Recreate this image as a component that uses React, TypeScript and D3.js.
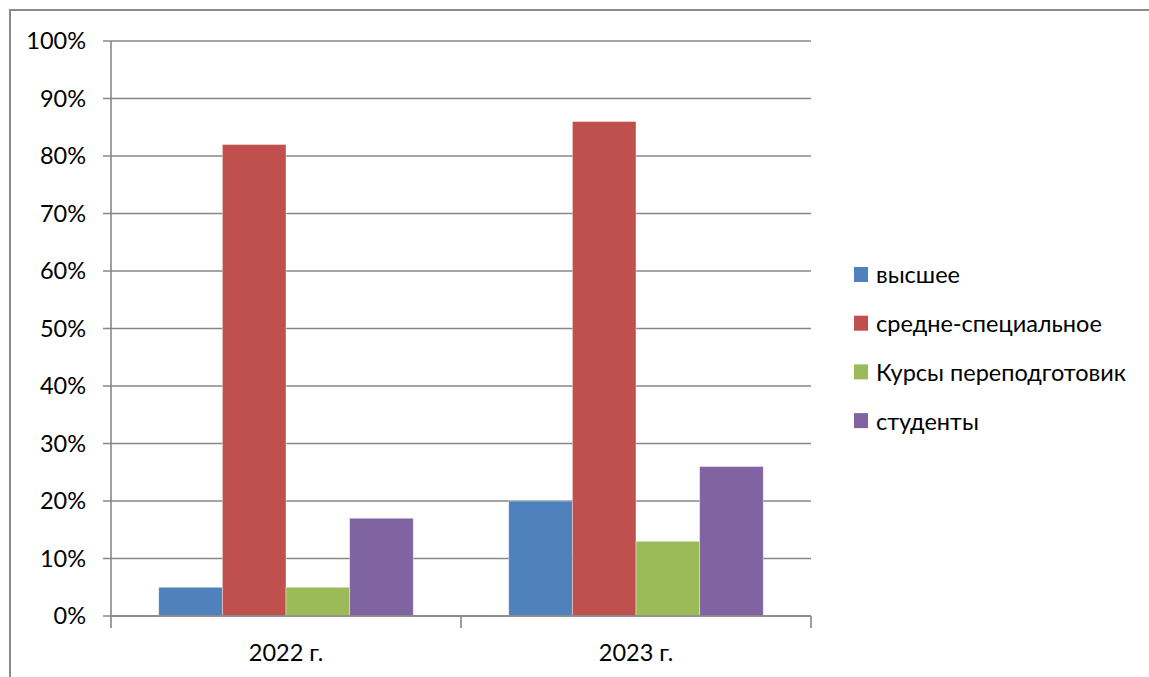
import React from 'react';
import * as d3 from 'd3';

const years = ['2022 г.', '2023 г.'];
const seriesNames = ['высшее', 'средне-специальное', 'Курсы переподготовик', 'студенты'];
const seriesColors = ['#4F81BD', '#C0504D', '#9BBB59', '#8064A2'];
// values in percent, one array per series, in order of years
const vysshee = [5, 20];
const sredneSpec = [82, 86];
const kursy = [5, 13];
const studenty = [17, 26];
const yTicks = [0, 10, 20, 30, 40, 50, 60, 70, 80, 90, 100];

const seriesValues = [vysshee, sredneSpec, kursy, studenty];

const W = 1149;
const H = 677;
const FONT = 'Lato, "Open Sans", sans-serif';
const FS = 23.5;

export default function App() {
  const left = 111;
  const right = 811;
  const top = 41;
  const bottom = 616;

  const x = d3.scaleBand<string>().domain(years).range([left, right]).paddingInner(0).paddingOuter(0);
  // bars take 4 of 5.5 units in each category (Excel gap width 150%)
  const inner = d3.scaleBand<string>()
    .domain(seriesNames)
    .range([0, x.bandwidth()])
    .paddingInner(0)
    .paddingOuter(0.75);
  const y = d3.scaleLinear().domain([0, 100]).range([bottom, top]);

  const gridColor = '#878787';

  return (
    <svg width={W} height={H} style={{ position: 'absolute', left: 0, top: 0, background: '#fff' }}>
      <rect x={10} y={10} width={W + 20} height={H + 20} fill="#fff" stroke="#8a8a8a" strokeWidth={2} />

      {/* grid lines and y labels */}
      {yTicks.map(t => (
        <g key={t}>
          <line x1={left - 8} x2={right} y1={y(t)} y2={y(t)} stroke={gridColor} strokeWidth={1.6} />
          <text x={86} y={y(t)} dy="0.36em" textAnchor="end" fontFamily={FONT} fontSize={FS} fill="#000">
            {t}%
          </text>
        </g>
      ))}

      {/* bars */}
      {years.map((yr, i) => (
        <g key={yr} transform={`translate(${x(yr)},0)`}>
          {seriesNames.map((s, j) => (
            <rect
              key={s}
              x={inner(s)}
              y={y(seriesValues[j][i])}
              width={inner.bandwidth()}
              height={bottom - y(seriesValues[j][i])}
              fill={seriesColors[j]}
              stroke="#ffffff"
              strokeOpacity={0.5}
              strokeWidth={0.8}
            />
          ))}
        </g>
      ))}

      {/* axes */}
      <line x1={left} x2={left} y1={top} y2={bottom} stroke={gridColor} strokeWidth={1.6} />
      <line x1={left} x2={right} y1={bottom} y2={bottom} stroke={gridColor} strokeWidth={1.6} />
      {[left, ...years.map(yr => (x(yr) as number) + x.bandwidth())].map((tx, i) => (
        <line key={i} x1={tx} x2={tx} y1={bottom} y2={bottom + 12} stroke={gridColor} strokeWidth={1.6} />
      ))}
      {years.map(yr => (
        <text
          key={yr}
          x={(x(yr) as number) + x.bandwidth() / 2}
          y={653}
          dy="0.36em"
          textAnchor="middle"
          fontFamily={FONT}
          fontSize={FS}
          fill="#000"
        >
          {yr}
        </text>
      ))}

      {/* legend */}
      {seriesNames.map((s, j) => (
        <g key={s} transform={`translate(854,${267 + j * 48.7})`}>
          <rect x={0} y={0} width={14} height={15} fill={seriesColors[j]} />
          <text x={22} y={8} dy="0.36em" fontFamily={FONT} fontSize={FS} fill="#000">
            {s}
          </text>
        </g>
      ))}
    </svg>
  );
}
